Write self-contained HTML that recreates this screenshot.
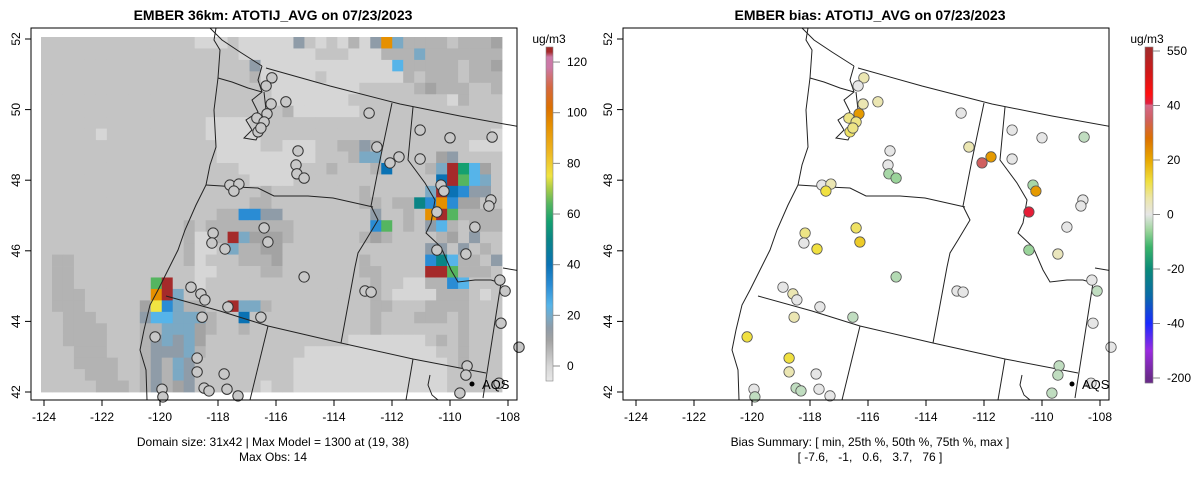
<!DOCTYPE html>
<html><head><meta charset="utf-8"><style>
body{margin:0;background:#fff}
svg{display:block;font-family:"Liberation Sans",sans-serif}
text{fill:#000}
</style></head><body>
<svg id="root" width="1200" height="479" viewBox="0 0 1200 479" xmlns="http://www.w3.org/2000/svg">
<defs>
<clipPath id="clipL"><rect x="31" y="28" width="486" height="372"/></clipPath>
</defs>
<g id="leftPanel">
  <text x="273" y="20" text-anchor="middle" font-weight="bold" font-size="14">EMBER 36km: ATOTIJ_AVG on 07/23/2023</text>
  <g id="gridL"></g>
</g>
<g id="linesL" clip-path="url(#clipL)" fill="none" stroke="#222" stroke-width="1">
  <path d="M216,28 L214,40 L220,50 L218,78 L214,110 L216,147 L210,165 L206,185 L196,205 L185,230 L178,250 L168,270 L158,290 L150,305 L144,330 L140,350 L146,370 L147,400"/>
  <path d="M218,78 L232,82 L248,88 L262,92"/>
  <path d="M210,28 L222,40 L240,52 L262,66"/>
  <path d="M262,66 L258,80 L262,92 L252,100 L258,112 L246,120 L252,130 L244,138 L256,140 L262,128 L266,110 L264,92"/>
  <path d="M266,68 L330,86 L400,104 L460,116 L521,127"/>
  <path d="M206,185 L222,186 L236,187 L258,188 L274,196 L308,196 L333,198 L373,207"/>
  <path d="M392,103 L380,160 L371,206 L378,220 L366,240 L358,253 L355,267 L348,305 L341,343"/>
  <path d="M413,107 L408,160 L425,183 L435,200 L431,223 L426,233 L441,247 L451,270 L458,282 L475,280 L491,280 L501,283"/>
  <path d="M501,283 L483,398"/>
  <path d="M503,268 L521,271"/>
  <path d="M166,296 L220,311 L268,326 L341,343 L413,359 L486,373"/>
  <path d="M268,326 L250,400"/>
  <path d="M413,359 L406,400"/>
  <path d="M430,375 L428,385 L432,395 L438,400"/>
</g>
<use href="#linesL" transform="translate(592,0)"/>
<g id="pointsL"></g>
<g id="rightPanel">
  <text x="870" y="20" text-anchor="middle" font-weight="bold" font-size="14">EMBER bias: ATOTIJ_AVG on 07/23/2023</text>
</g>
<g id="pointsR"></g>
<g id="axes"></g>
<g>
  <circle cx="472" cy="384" r="2.5" fill="#000"/>
  <text x="482" y="389" font-size="13">AQS</text>
</g>
<g>
  <circle cx="1072" cy="384" r="2.5" fill="#000"/>
  <text x="1082" y="389" font-size="13">AQS</text>
</g>
<text x="273" y="446" text-anchor="middle" font-size="12">Domain size: 31x42 | Max Model = 1300 at (19, 38)</text>
<text x="273" y="461" text-anchor="middle" font-size="12">Max Obs: 14</text>
<text x="870" y="446" text-anchor="middle" font-size="12">Bias Summary: [ min, 25th %, 50th %, 75th %, max ]</text>
<text x="870" y="461" text-anchor="middle" font-size="12" xml:space="preserve">[ -7.6,   -1,   0.6,   3.7,   76 ]</text>
<g id="cbarL"></g>
<g id="cbarR"></g>
</svg>
<script>
// ---- data ----
var gridRows = [
"bbbbbbbbbbbbbbaaabaaaaaebabacaenfccccbcccd",
"bbbbbbbbbbbbbbbbbbaaaaaaabbbaaacccfcccccccd".slice(0,42),
"bbbbbbbbbbbbbbbbbbbeaaaaaaaaaaaagcccccbccd",
"bbbbbbbbbbbbbbbbbbbcaaaaabaaaaaaacbcccbccc",
"bbbbbbbbbbbbbbbbbbbbbaaaaaaaabbbbbcdcccbbc",
"bbbbbbbbbbbbbbbbbbbbbaaaaaaabbbbbbbbbacbbb",
"bbbbbbbbbbbbbbbbbbbbbbcaaaaaabbbbbbbbbbbbb",
"bbbbbbbbbbbbbbbaaaabbbbbbbbbbbbbbbbbbbbbbb",
"bbbbbabbbbbbbbbaaaaabbbbbbbbbbbbbbbbbbbbba",
"bbbbbbbbbbbbbbbbaaaabbaaabbccecbbbbbbbbaaa",
"bbbbbbbbbbbbbbbbaaaaaaaaabbbcffbbbbbdebbbb",
"bbbbbbbbbbbbbbbbbbaaaaabbbcbbbcibbbcfokgdb",
"bbbbbbbbbbbbbbbbbbbaaaabbbbbbbbbbbbbiolgfb",
"bbbbbbbbbbbbbbbbbbbbcbbbbbbbbcbbbbbfoiheeb",
"bbbbbbbbbbbbbbbbbbbccbbbbbbbbccbccjhnhddbb",
"bbbbbbbbbbbbbbbbcchheebbbbbbbbebbcbnolcccc",
"bbbbbbbbbbbbbcbccccccccbbbbbbbhlbcbegcbccc",
"bbbbbbbbbbbbbcaacofdddcbbbbbbcdcbbbbcdbebb",
"bbbbbbbbbbbbbcaabfccddbbbbbbbbbbbbbeebebcb",
"bccbbbbbbbbbbcabbbcccdbbbbbbbcbbbbbhjgccbe",
"bccbbbbbbbbbbbaabbbbccbbbbbbbccbbbboolcccb",
"bccbbbbbbblobbabbbbbbbbbbbbbbbcbbaacchgbbb",
"bcccbbbbbbnofbbbbbbbbbbbbbbbbbcbaaaacccbab",
"bcccbbbbbdmhfccbboffcbbbbbbbbbccbbbccccbbb",
"bbcccbbbbeggfffcbbibbbbbbbbbbbcbbbcccbcbbb",
"bbccccbbbccfffdcbbcbbbbbbbbbbbcbbbbbbbcbbb",
"bbccccbbbcefefdbbbbbbbbbbbbbaaaaaaabcbcbbb",
"bbbcccbbbceeefcbbbbbbbbbaaaaaaaaaaaabbcbbb",
"bbbccccbbcecfebbbbbbbbbaaaaaaaaaaaaaabcbbb",
"bbbbcccbbcecfebbbbbbbbbaaaaaaaaaaaaaabbbbb",
"bbbbbcccbcecdebbbbbbabbaaaaaaaaaaaaaabbbbb"
];
var levelChars = "abcdefghijklmno";
var levelValues = [0, 3.5, 7, 10, 15, 19, 24, 32, 40, 50, 57, 64, 75, 95, 124];

var siteLon = [-116.14,-116.34,-116.17,-115.66,-116.31,-116.66,-116.41,-116.62,-116.52,-112.79,-111.03,-110.0,-108.55,-115.24,-112.52,-111.76,-112.07,-111.03,-115.31,-115.28,-115.03,-117.59,-117.28,-117.45,-110.31,-110.21,-108.59,-108.66,-110.45,-109.14,-116.41,-118.17,-118.21,-117.76,-116.28,-110.45,-109.45,-115.03,-108.28,-108.10,-118.93,-118.59,-118.45,-112.93,-112.72,-117.66,-116.52,-118.55,-108.24,-120.17,-107.62,-118.72,-118.72,-117.79,-109.41,-109.45,-118.48,-118.31,-117.69,-119.93,-117.31,-119.90,-109.66,-108.31];
var siteLat = [50.90,50.67,50.16,50.22,49.88,49.76,49.65,49.37,49.48,49.90,49.42,49.20,49.22,48.83,48.94,48.66,48.49,48.60,48.43,48.18,48.06,47.86,47.89,47.69,47.86,47.69,47.44,47.27,47.10,46.67,46.65,46.50,46.22,46.05,46.25,46.02,45.91,45.26,45.17,44.86,44.97,44.78,44.61,44.86,44.83,44.41,44.12,44.12,43.95,43.56,43.27,42.96,42.57,42.51,42.74,42.48,42.11,42.03,42.08,42.08,41.89,41.86,41.97,42.25];
var siteBias = [5,0,5,5,22,8,8,10,8,0,0,0,-3,0,5,22,35,0,0,-5,-6,0,5,12,-5,22,0,0,76,0,10,8,0,12,15,-6,4,-4,0,-3,0,5,0,0,0,0,-3,5,0,12,0,12,5,0,-3,-3,-3,-3,0,0,0,-3,-3,0];

var xTicks = [-124,-122,-120,-118,-116,-114,-112,-110,-108];
var yTicks = [42,44,46,48,50,52];
var modelTicks = [0,20,40,60,80,100,120];
var biasTicks = [-200,-40,-20,0,20,40,550];

// ---- scales ----
var NS = "http://www.w3.org/2000/svg";
function xL(v){ return 44 + (v + 124) * 29; }
function yM(v){ return 39 + (52 - v) * 35.3; }
var nCols = 42, nRows = 31;
function colX(c){ return 41 + c * (461 / nCols); }
function rowY(r){ return 37 + r * (355 / nRows); }

function hex(h){ return [parseInt(h.substr(1,2),16),parseInt(h.substr(3,2),16),parseInt(h.substr(5,2),16)]; }
function interp(stops, v){
  if (v <= stops[0][0]) return stops[0][1];
  for (var i=1;i<stops.length;i++){
    if (v <= stops[i][0]){
      var a=stops[i-1], b=stops[i], t=(v-a[0])/(b[0]-a[0]);
      var ca=hex(a[1]), cb=hex(b[1]);
      return "rgb("+Math.round(ca[0]+(cb[0]-ca[0])*t)+","+Math.round(ca[1]+(cb[1]-ca[1])*t)+","+Math.round(ca[2]+(cb[2]-ca[2])*t)+")";
    }
  }
  return stops[stops.length-1][1];
}
var modelStops = [[-6,"#e8e8e8"],[0,"#d6d6d6"],[3.5,"#c4c4c4"],[7,"#b3b3b3"],[10,"#a3a3a3"],[15,"#8f9ca8"],[19,"#7ba9c4"],[24,"#56b4e9"],[32,"#2a8cd4"],[40,"#0a72b4"],[50,"#0a8586"],[57,"#14a070"],[64,"#55b560"],[70,"#a8cc48"],[75,"#f0e442"],[85,"#eeb420"],[95,"#e69000"],[102,"#dc7000"],[110,"#d56840"],[118,"#cc79a7"],[122,"#cc79a7"],[124,"#a52a2a"]];
function modelColor(v){ return interp(modelStops, v); }
var biasStops = [[-200,"#6a2a8a"],[-120,"#9a2ae0"],[-40,"#1a2aff"],[-30,"#0a6aa8"],[-20,"#0a8a78"],[-12,"#3ab46a"],[-6,"#9ad49a"],[0,"#e6e6e6"],[6,"#ece6a8"],[12,"#f0e040"],[20,"#e8a800"],[28,"#dc7000"],[35,"#d06060"],[40,"#d46888"],[60,"#e02040"],[150,"#ff1010"],[350,"#d01818"],[550,"#a52a2a"]];
function biasColor(v){ return interp(biasStops, v); }
function biasToY(v){
  for (var i=1;i<biasTicks.length;i++){
    if (v <= biasTicks[i]){
      var t=(v-biasTicks[i-1])/(biasTicks[i]-biasTicks[i-1]);
      return 378 - (i-1+t)*54.5;
    }
  }
  return 51;
}
function modelToY(v){ return 366 - v * 2.533; }

function mk(tag, attrs, parent){
  var e=document.createElementNS(NS,tag);
  for (var k in attrs) e.setAttribute(k, attrs[k]);
  parent.appendChild(e); return e;
}

// ---- grid ----
var gridG = document.getElementById("gridL");
for (var r=0;r<nRows;r++){
  var row = gridRows[r];
  for (var c=0;c<nCols;c++){
    var ch = row.charAt(c) || "b";
    var val = levelValues[levelChars.indexOf(ch)];
    var cell = mk("rect",{x:colX(c).toFixed(2), y:rowY(r).toFixed(2), width:(461/nCols+0.4).toFixed(2), height:(355/nRows+0.4).toFixed(2), fill:modelColor(val)}, gridG);
    
    
  }
}

// ---- sites ----
var pL = document.getElementById("pointsL"), pR = document.getElementById("pointsR");
for (var i=0;i<siteLon.length;i++){
  var a = mk("circle",{cx:xL(siteLon[i]).toFixed(1), cy:yM(siteLat[i]).toFixed(1), r:5.2, fill:"#c8c8c8", stroke:"#333", "stroke-width":1}, pL);
  
  
  var b = mk("circle",{cx:(xL(siteLon[i])+592).toFixed(1), cy:yM(siteLat[i]).toFixed(1), r:5.2, fill:biasColor(siteBias[i]), stroke:"#555", "stroke-width":0.8}, pR);
  
  
}

// ---- axes ----
var ax = document.getElementById("axes");
[0,592].forEach(function(off){
  var fr = mk("rect",{x:31+off, y:28, width:486, height:372, fill:"none", stroke:"#000", "stroke-width":1}, ax);
  
  
  xTicks.forEach(function(v){
    var x = xL(v)+off;
    mk("line",{x1:x,x2:x,y1:400,y2:406,stroke:"#000"}, ax);
    var t = mk("text",{x:x, y:421, "text-anchor":"middle", "font-size":12}, ax);
    t.textContent = v;
    
    
  });
  yTicks.forEach(function(v){
    var y = yM(v);
    mk("line",{x1:25+off,x2:31+off,y1:y,y2:y,stroke:"#000"}, ax);
    var t = mk("text",{x:0,y:0,"text-anchor":"middle","font-size":12,transform:"translate("+(20+off)+","+y+") rotate(-90)"}, ax);
    t.textContent = v;
    
    
  });
});

// ---- colorbars ----
var cL = document.getElementById("cbarL");
var barTopL = 47, barBotL = 381;
for (var yy1=barTopL; yy1<barBotL; yy1+=1){
  var v1 = (366 - (yy1+0.5))/2.533;
  mk("rect",{x:546,y:yy1,width:7,height:1.2,fill:modelColor(v1)}, cL);
}
mk("rect",{x:546,y:barTopL,width:7,height:barBotL-barTopL,fill:"none",stroke:"#888","stroke-width":0.6}, cL);
modelTicks.forEach(function(v){
  var y=modelToY(v);
  mk("line",{x1:553,x2:560,y1:y,y2:y,stroke:"#888"}, cL);
  var t=mk("text",{x:567,y:y+4,"font-size":12}, cL);
  t.textContent=v;
  
  
});
var uL=mk("text",{x:549,y:43,"text-anchor":"middle","font-size":12}, cL); uL.textContent="ug/m3";



var cR = document.getElementById("cbarR");
for (var yy2=47; yy2<383; yy2+=1){
  var pos = (378 - (yy2+0.5))/54.5;
  if (pos<0) pos=0; if (pos>6) pos=6;
  var i0=Math.min(5,Math.floor(pos)), f=pos-i0;
  var v2 = biasTicks[i0] + f*(biasTicks[i0+1]-biasTicks[i0]);
  mk("rect",{x:1145,y:yy2,width:8,height:1.2,fill:biasColor(v2)}, cR);
}
mk("rect",{x:1145,y:47,width:8,height:336,fill:"none",stroke:"#888","stroke-width":0.6}, cR);
biasTicks.forEach(function(v){
  var y=biasToY(v);
  mk("line",{x1:1153,x2:1160,y1:y,y2:y,stroke:"#888"}, cR);
  var t=mk("text",{x:1167,y:y+4,"font-size":12}, cR);
  t.textContent=v;
  
  
});
var uR=mk("text",{x:1147,y:43,"text-anchor":"middle","font-size":12}, cR); uR.textContent="ug/m3";


</script>
</body></html>
